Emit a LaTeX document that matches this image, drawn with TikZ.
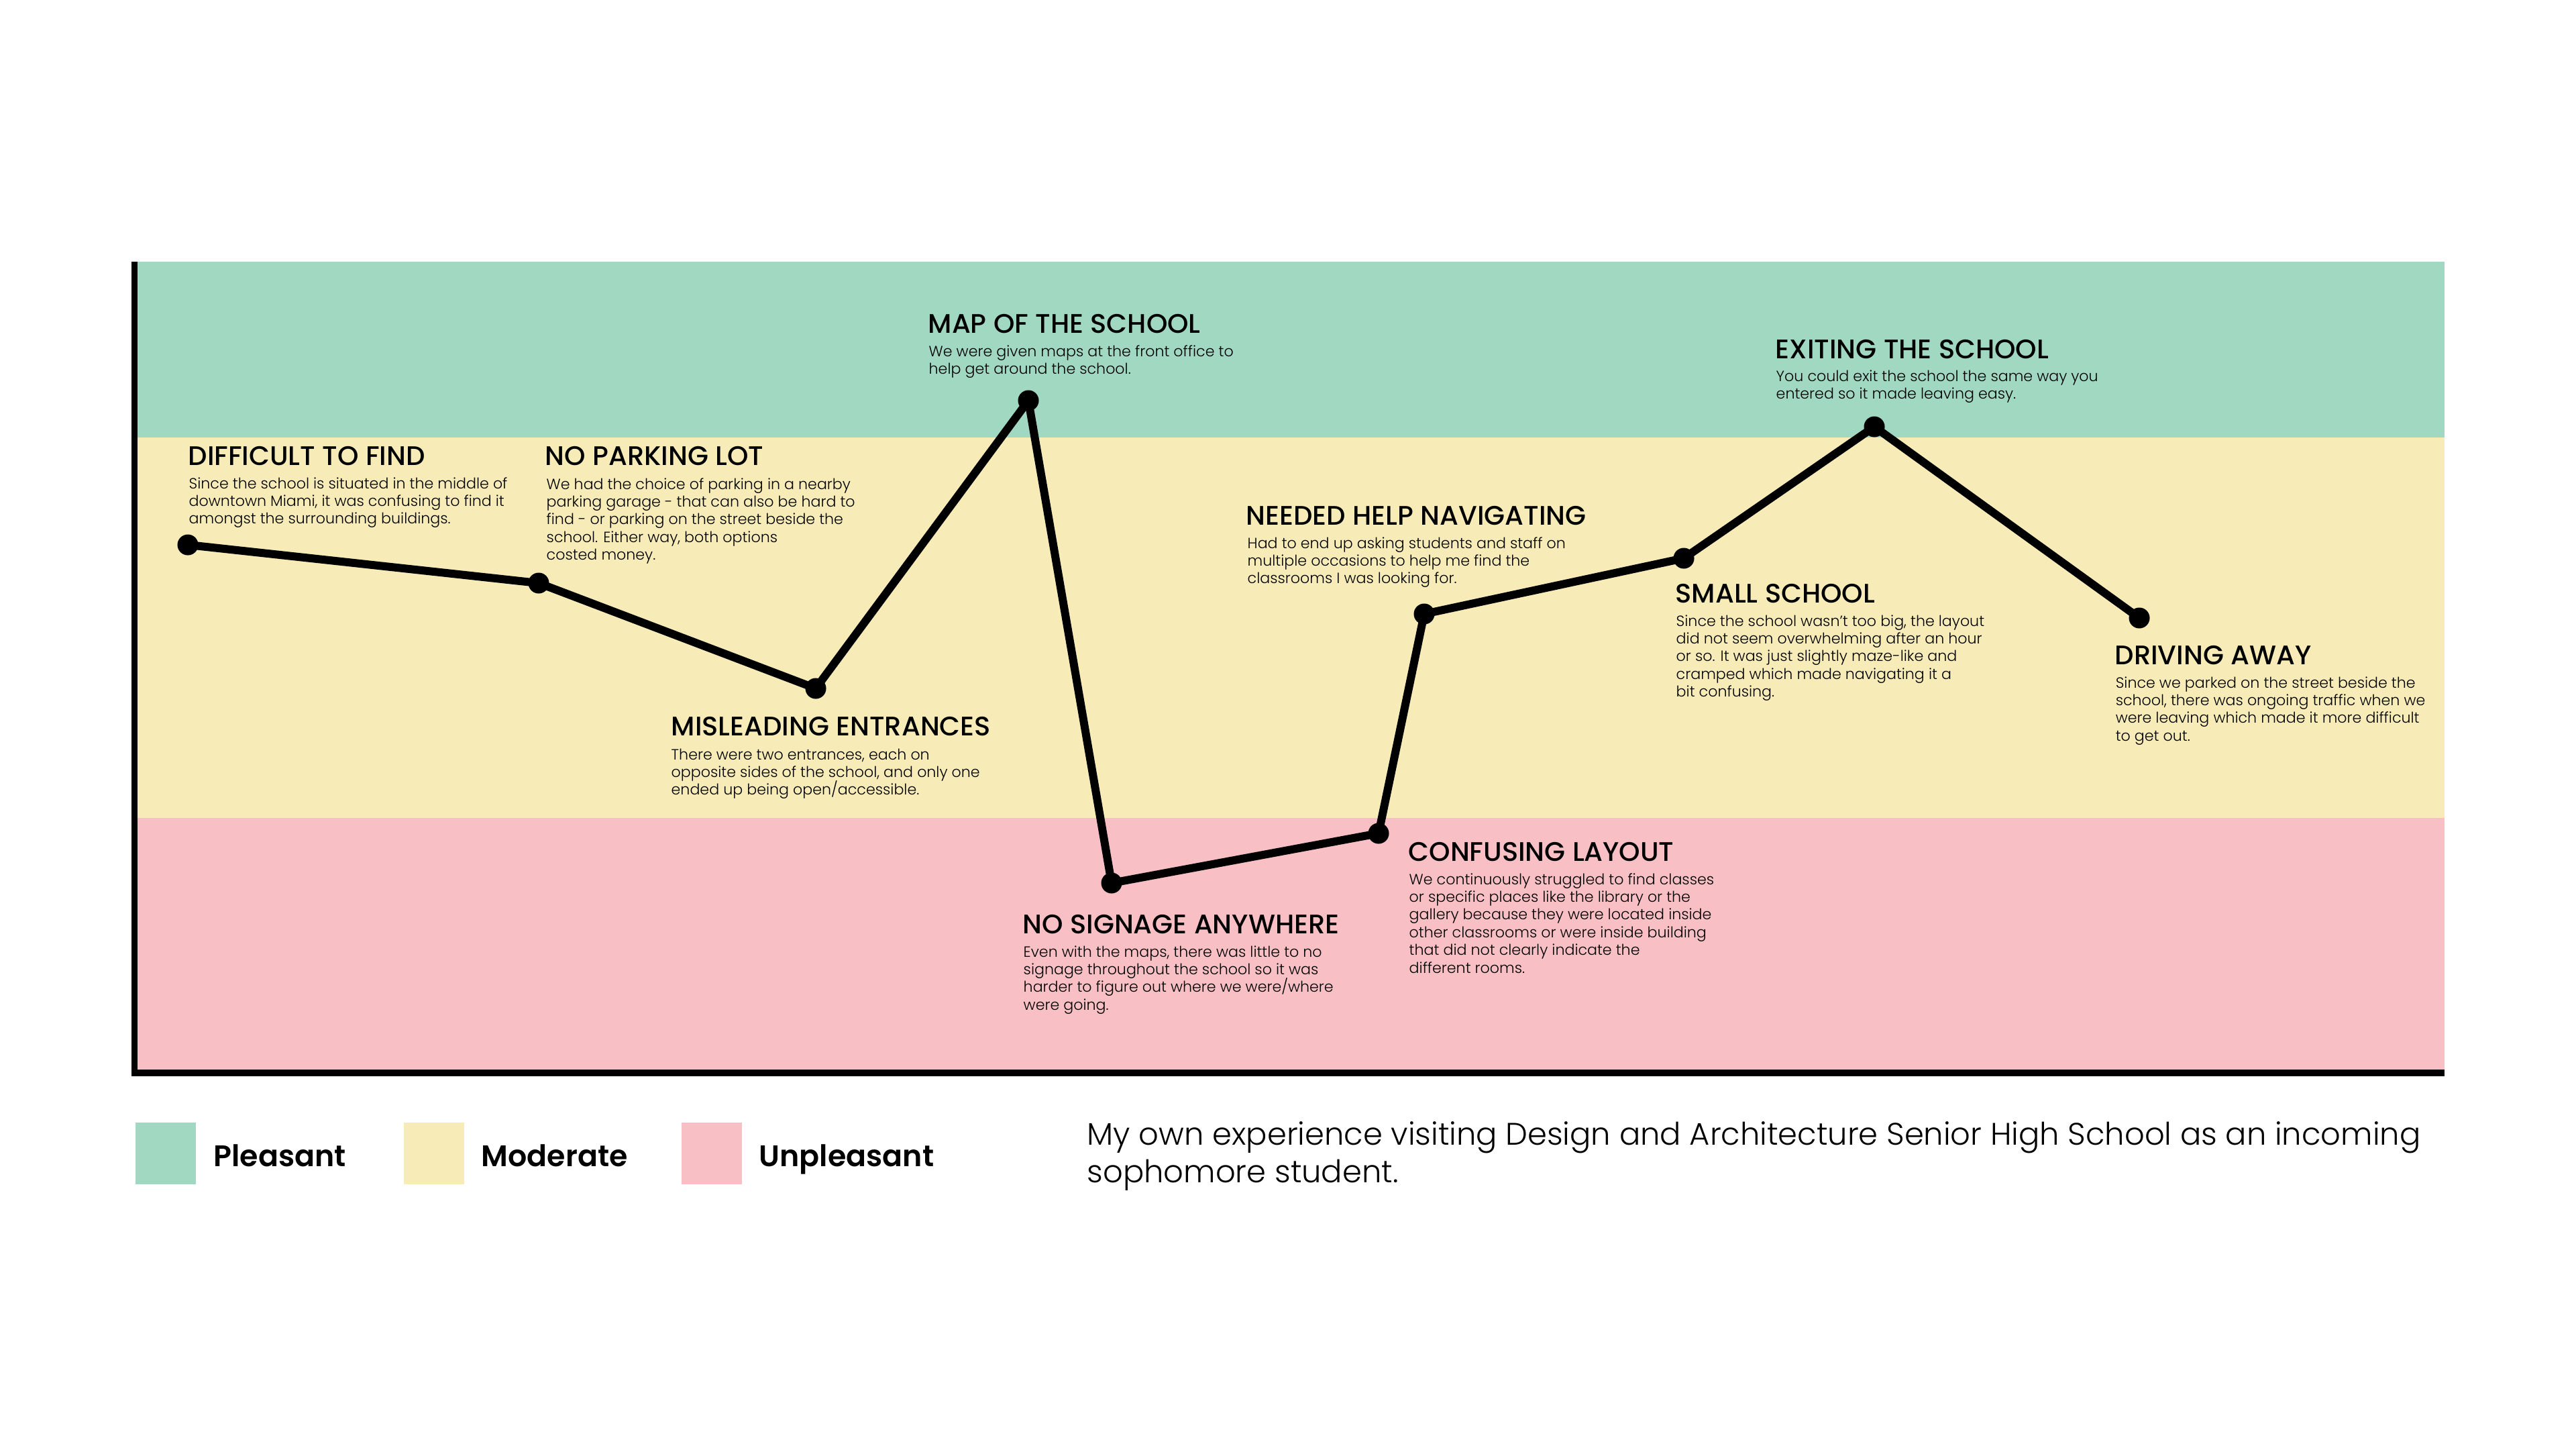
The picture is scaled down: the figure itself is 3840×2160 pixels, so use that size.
\documentclass[tikz,border=0pt]{standalone}
\usepackage{fontspec}
\setmainfont{Poppins}
\newfontfamily\titlefam{Poppins Medium}
\newfontfamily\bodyfam{Poppins Light}
\newfontfamily\legfam{Poppins SemiBold}
\definecolor{pleasant}{RGB}{161,216,193}
\definecolor{moderate}{RGB}{247,236,183}
\definecolor{unpleasant}{RGB}{248,192,196}
\newcommand\txtlines[1]{\vtop{\baselineskip=7.51pt\lineskiplimit=-1cm\lineskip=0pt\halign{##\hfil\cr#1\crcr}}}
\newcommand\caplines[1]{\vtop{\baselineskip=15.93pt\lineskiplimit=-1cm\lineskip=0pt\halign{##\hfil\cr#1\crcr}}}
\tikzset{
  dotnode/.style={circle,fill=black,inner sep=0pt,minimum size=0.31cm},
  journey/.style={line width=0.12cm,black,line join=round,line cap=round},
  axisline/.style={line width=0.095cm,black,line join=miter},
  evtitle/.style={anchor=base west,inner sep=0pt,font=\titlefam\fontsize{11.38pt}{13pt}\selectfont},
  evbody/.style={anchor=base west,inner sep=0pt,font=\bodyfam\fontsize{6.3pt}{7.51pt}\selectfont},
  legbox/.style={inner sep=0pt,minimum width=0.9cm,minimum height=0.92cm},
  legtext/.style={anchor=base west,inner sep=0pt,font=\legfam\fontsize{12.6pt}{15pt}\selectfont},
  captext/.style={anchor=base west,inner sep=0pt,font=\bodyfam\fontsize{13.2pt}{15.93pt}\selectfont}
}
\begin{document}
\begin{tikzpicture}[x=0.01cm,y=-0.01cm]
\useasboundingbox (0,0) rectangle (3840,2160);
\fill[white] (0,0) rectangle (3840,2160);
% bands
\fill[pleasant] (205,390) rectangle (3644,652);
\fill[moderate] (205,652) rectangle (3644,1219);
\fill[unpleasant] (205,1219) rectangle (3644,1595);
% axes
\coordinate (axtop) at (200.5,390);
\coordinate (axorig) at (200.5,1599);
\coordinate (axend) at (3644,1599);
\draw[axisline] (axtop) -- (axorig) -- (axend);
% points
\node[dotnode] (p1) at (280,812) {};
\node[dotnode] (p2) at (803,869) {};
\node[dotnode] (p3) at (1216,1026) {};
\node[dotnode] (p4) at (1533,597) {};
\node[dotnode] (p5) at (1657,1316) {};
\node[dotnode] (p6) at (2055,1242) {};
\node[dotnode] (p7) at (2123,915) {};
\node[dotnode] (p8) at (2510,832) {};
\node[dotnode] (p9) at (2794,636) {};
\node[dotnode] (p10) at (3189,921) {};
\draw[journey] (p1.center) -- (p2.center) -- (p3.center) -- (p4.center) -- (p5.center) -- (p6.center) -- (p7.center) -- (p8.center) -- (p9.center) -- (p10.center);
% texts
\node[evtitle] (t1) at (280,693) {DIFFICULT TO FIND};
\node[evbody] (b1) at (281,728) {\txtlines{Since the school is situated in the middle of\cr downtown Miami, it was confusing to find it\cr amongst the surrounding buildings.}};
\node[evtitle] (t2) at (812,693) {NO PARKING LOT};
\node[evbody] (b2) at (814,729) {\txtlines{We had the choice of parking in a nearby\cr parking garage - that can also be hard to\cr find - or parking on the street beside the\cr school. Either way, both options\cr costed money.}};
\node[evtitle] (t3) at (1000,1096) {MISLEADING ENTRANCES};
\node[evbody] (b3) at (1000,1132) {\txtlines{There were two entrances, each on\cr opposite sides of the school, and only one\cr ended up being open/accessible.}};
\node[evtitle] (t4) at (1383,496) {MAP OF THE SCHOOL};
\node[evbody] (b4) at (1384,531) {\txtlines{We were given maps at the front office to\cr help get around the school.}};
\node[evtitle] (t5) at (1524,1391) {NO SIGNAGE ANYWHERE};
\node[evbody] (b5) at (1525,1426) {\txtlines{Even with the maps, there was little to no\cr signage throughout the school so it was\cr harder to figure out where we were/where\cr were going.}};
\node[evtitle] (t6) at (2099,1283) {CONFUSING LAYOUT};
\node[evbody] (b6) at (2100,1318) {\txtlines{We continuously struggled to find classes\cr or specific places like the library or the\cr gallery because they were located inside\cr other classrooms or were inside building\cr that did not clearly indicate the\cr different rooms.}};
\node[evtitle] (t7) at (1857,782) {NEEDED HELP NAVIGATING};
\node[evbody] (b7) at (1859,817) {\txtlines{Had to end up asking students and staff on\cr multiple occasions to help me find the\cr classrooms I was looking for.}};
\node[evtitle] (t8) at (2497,898) {SMALL SCHOOL};
\node[evbody] (b8) at (2498,933) {\txtlines{Since the school wasn’t too big, the layout\cr did not seem overwhelming after an hour\cr or so. It was just slightly maze-like and\cr cramped which made navigating it a\cr bit confusing.}};
\node[evtitle] (t9) at (2646,534) {EXITING THE SCHOOL};
\node[evbody] (b9) at (2647,568) {\txtlines{You could exit the school the same way you\cr entered so it made leaving easy.}};
\node[evtitle] (t10) at (3152,990) {DRIVING AWAY};
\node[evbody] (b10) at (3153,1025) {\txtlines{Since we parked on the street beside the\cr school, there was ongoing traffic when we\cr were leaving which made it more difficult\cr to get out.}};
% legend
\node[legbox,fill=pleasant] (lg1) at (247,1719) {};
\node[legbox,fill=moderate] (lg2) at (647,1719) {};
\node[legbox,fill=unpleasant] (lg3) at (1061,1719) {};
\node[legtext] (lt1) at (318,1738) {Pleasant};
\node[legtext] (lt2) at (717,1738) {Moderate};
\node[legtext] (lt3) at (1131,1738) {Unpleasant};
% caption
\node[captext] (cap) at (1620,1706) {\caplines{My own experience visiting Design and Architecture Senior High School as an incoming\cr sophomore student.}};
\end{tikzpicture}
\end{document}
